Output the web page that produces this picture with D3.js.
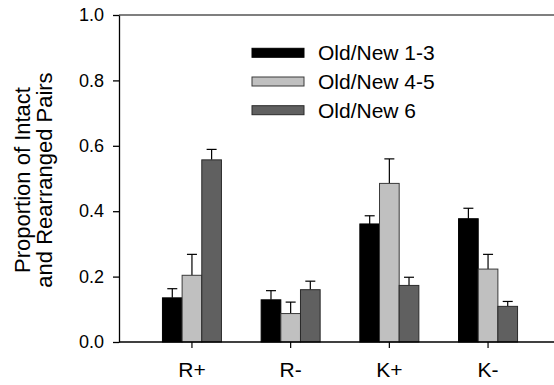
<!DOCTYPE html>
<html>
<head>
<meta charset="utf-8">
<script src="https://cdn.jsdelivr.net/npm/d3@7"></script>
<style>
  body { margin: 0; background: #fff; overflow: hidden; }
  svg { display: block; font-family: Arial, "Liberation Sans", sans-serif; }
</style>
</head>
<body>
<div id="chart"></div>
<script>
// Values
const categories = ['R+', 'R-', 'K+', 'K-'];
const series = ['Old/New 1-3', 'Old/New 4-5', 'Old/New 6'];
const means13 = [0.135, 0.129, 0.361, 0.377];
const errs13 = [0.028, 0.028, 0.025, 0.032];
const means45 = [0.204, 0.087, 0.485, 0.223];
const errs45 = [0.064, 0.035, 0.075, 0.045];
const means6 = [0.557, 0.160, 0.173, 0.109];
const errs6 = [0.032, 0.026, 0.025, 0.015];
const yTicks = [0, 0.2, 0.4, 0.6, 0.8, 1.0];

const fills = ['#000000', '#c0c0c0', '#606060'];
const strokes = ['#000000', '#3a3a3a', '#2a2a2a'];

const W = 554, H = 385;
const plotLeft = 119, plotRight = 560, plotTop = 15, plotBottom = 342;

const svg = d3.select('#chart').append('svg')
  .attr('width', W)
  .attr('height', H)
  .style('overflow', 'hidden');

// Scales
const x = d3.scaleBand().domain(categories).range([142.6, 537.4]);
const xSub = d3.scaleBand().domain(series).range([-29.5, 29.5]);
const y = d3.scaleLinear().domain([0, 1]).range([plotBottom, plotTop]);

const data = categories.flatMap((c, i) => [
  { cat: c, s: 0, v: means13[i], e: errs13[i] },
  { cat: c, s: 1, v: means45[i], e: errs45[i] },
  { cat: c, s: 2, v: means6[i], e: errs6[i] },
]);

// Error bars first so bars cover the lower part
const eb = svg.append('g');
data.forEach((d) => {
  const cx = x(d.cat) + x.bandwidth() / 2 + xSub(series[d.s]) + xSub.bandwidth() / 2;
  eb.append('line')
    .attr('x1', cx).attr('x2', cx)
    .attr('y1', y(d.v)).attr('y2', y(d.v + d.e))
    .attr('stroke', '#000').attr('stroke-width', 1.2);
  eb.append('line')
    .attr('x1', cx - 5).attr('x2', cx + 5)
    .attr('y1', y(d.v + d.e)).attr('y2', y(d.v + d.e))
    .attr('stroke', '#000').attr('stroke-width', 1.2);
});

// Bars
svg.append('g').selectAll('rect')
  .data(data).enter()
  .append('rect')
  .attr('x', (d) => x(d.cat) + x.bandwidth() / 2 + xSub(series[d.s]))
  .attr('y', (d) => y(d.v))
  .attr('width', xSub.bandwidth())
  .attr('height', (d) => y(0) - y(d.v))
  .attr('fill', (d) => fills[d.s])
  .attr('stroke', (d) => strokes[d.s])
  .attr('stroke-width', 1);

// Top frame line
svg.append('line')
  .attr('x1', plotLeft).attr('x2', plotRight)
  .attr('y1', y(1)).attr('y2', y(1))
  .attr('stroke', '#555').attr('stroke-width', 1.5);

// Y axis
const yAxis = svg.append('g')
  .attr('transform', `translate(${plotLeft},0)`)
  .call(d3.axisLeft(y).tickValues(yTicks).tickFormat(d3.format('.1f')).tickSize(6).tickSizeOuter(0).tickPadding(9));
yAxis.selectAll('text').attr('font-size', 18).attr('fill', '#000').attr('font-family', null);
yAxis.selectAll('line, path').attr('stroke', '#000').attr('stroke-width', 1.3);

// X axis (ticks and labels only; the baseline is drawn separately)
const xAxis = svg.append('g')
  .attr('transform', `translate(0,${plotBottom})`)
  .call(d3.axisBottom(x).tickSize(6).tickSizeOuter(0).tickPadding(14));
xAxis.select('.domain').remove();
xAxis.selectAll('text').attr('font-size', 21).attr('fill', '#000').attr('font-family', null);
xAxis.selectAll('line').attr('stroke', '#000').attr('stroke-width', 1.2);
svg.append('line')
  .attr('x1', plotLeft).attr('x2', plotRight)
  .attr('y1', plotBottom).attr('y2', plotBottom)
  .attr('stroke', '#000').attr('stroke-width', 1.5);

// Y axis title, two lines
const title = svg.append('text')
  .attr('transform', 'translate(30,180) rotate(-90)')
  .attr('text-anchor', 'middle')
  .attr('font-size', 22)
  .attr('fill', '#000');
title.append('tspan').attr('x', 0).attr('y', 0).text('Proportion of Intact');
title.append('tspan').attr('x', 0).attr('y', 22).text('and Rearranged Pairs');

// Legend
const legend = svg.append('g');
series.forEach((s, i) => {
  const cy = 52.8 + i * 28.7;
  legend.append('rect')
    .attr('x', 252).attr('y', cy - 4.5)
    .attr('width', 52).attr('height', 9)
    .attr('fill', fills[i])
    .attr('stroke', strokes[i]).attr('stroke-width', 1);
  legend.append('text')
    .attr('x', 318).attr('y', cy + 7.5)
    .attr('font-size', 21)
    .attr('fill', '#000')
    .text(s);
});
</script>
</body>
</html>
